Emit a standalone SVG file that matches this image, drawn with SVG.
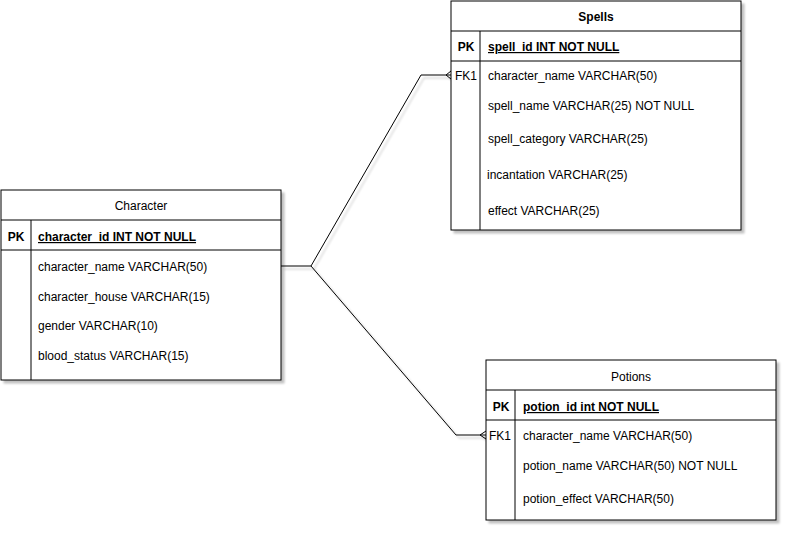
<svg xmlns="http://www.w3.org/2000/svg" width="787" height="533" viewBox="0 0 787 533">
<defs>
<filter id="sh" x="-5%" y="-5%" width="115%" height="115%">
<feGaussianBlur in="SourceAlpha" stdDeviation="1.2"/>
<feOffset dx="3" dy="3" result="b"/>
<feComponentTransfer><feFuncA type="linear" slope="0.25"/></feComponentTransfer>
<feMerge><feMergeNode/><feMergeNode in="SourceGraphic"/></feMerge>
</filter>
</defs>
<style>
text{font-family:"Liberation Sans",Arial,sans-serif;font-size:12px;fill:#000;}
.t{text-anchor:middle;}
.b{font-weight:bold;}
.u{text-decoration:underline;}
.box{fill:#fff;stroke:#000;stroke-width:1;}
.ln{fill:none;stroke:#000;stroke-width:1;}
</style>
<rect width="787" height="533" fill="#fff"/>
<g id="connectors" filter="url(#sh)">
<path class="ln" d="M281 266 L311 266 L421 75 L451 75"/>
<path class="ln" d="M446 75 L451 71 M446 75 L451 79"/>
<path class="ln" d="M311 266 L456 435 L486 435"/>
<path class="ln" d="M480 435 L486 431 M480 435 L486 439"/>
</g>
<g id="spells">
<rect class="box" x="451" y="1" width="290" height="229" filter="url(#sh)"/>
<path class="ln" d="M451 31 H741 M451 61 H741 M480 31 V230"/>
<text class="t b" x="596" y="21">Spells</text>
<text class="t b" x="466" y="51">PK</text>
<text class="b u" x="488" y="51">spell_id INT NOT NULL</text>
<text class="t" x="466" y="80">FK1</text>
<text x="488" y="80">character_name VARCHAR(50)</text>
<text x="488" y="110">spell_name VARCHAR(25) NOT NULL</text>
<text x="488" y="143">spell_category VARCHAR(25)</text>
<text x="487" y="179">incantation VARCHAR(25)</text>
<text x="488" y="215">effect VARCHAR(25)</text>
</g>
<g id="character">
<rect class="box" x="1" y="190" width="280" height="190" filter="url(#sh)"/>
<path class="ln" d="M1 220 H281 M1 250 H281 M31 220 V380"/>
<text class="t" x="141" y="210">Character</text>
<text class="t b" x="16" y="241">PK</text>
<text class="b u" x="38" y="241">character_id INT NOT NULL</text>
<text x="38" y="271">character_name VARCHAR(50)</text>
<text x="38" y="301">character_house VARCHAR(15)</text>
<text x="38" y="330">gender VARCHAR(10)</text>
<text x="38" y="360">blood_status VARCHAR(15)</text>
</g>
<g id="potions">
<rect class="box" x="486" y="360" width="290" height="160" filter="url(#sh)"/>
<path class="ln" d="M486 390 H776 M486 420 H776 M515 390 V520"/>
<text class="t" x="631" y="381">Potions</text>
<text class="t b" x="501" y="411">PK</text>
<text class="b u" x="523" y="411">potion_id int NOT NULL</text>
<text class="t" x="500" y="440">FK1</text>
<text x="523" y="440">character_name VARCHAR(50)</text>
<text x="523" y="470">potion_name VARCHAR(50) NOT NULL</text>
<text x="523" y="503">potion_effect VARCHAR(50)</text>
</g>
</svg>
